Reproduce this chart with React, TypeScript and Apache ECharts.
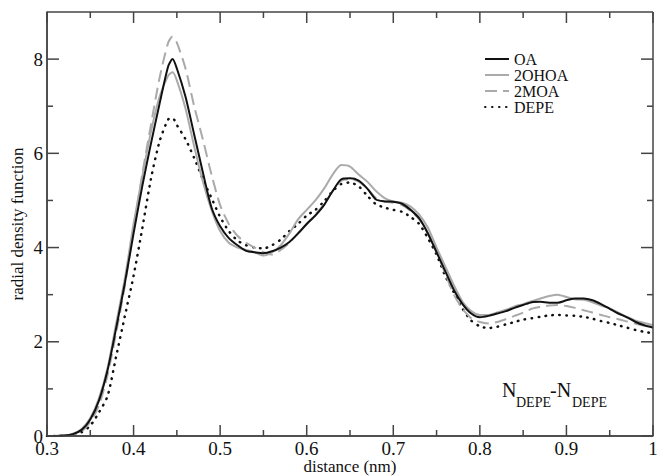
import React, { useEffect, useRef } from "react";
import * as echarts from "echarts";

const distance = [
  0.30, 0.31, 0.32, 0.33, 0.34, 0.35, 0.36, 0.37, 0.38, 0.39,
  0.40, 0.41, 0.42, 0.43, 0.44, 0.445, 0.45, 0.46, 0.47, 0.48, 0.49,
  0.50, 0.51, 0.52, 0.53, 0.54, 0.55, 0.56, 0.57, 0.58, 0.59,
  0.60, 0.61, 0.62, 0.63, 0.64, 0.65, 0.66, 0.67, 0.68, 0.69,
  0.70, 0.71, 0.72, 0.73, 0.74, 0.75, 0.76, 0.77, 0.78, 0.79,
  0.80, 0.81, 0.82, 0.83, 0.84, 0.85, 0.86, 0.87, 0.88, 0.89,
  0.90, 0.91, 0.92, 0.93, 0.94, 0.95, 0.96, 0.97, 0.98, 0.99, 1.00,
];

const oa = [
  0, 0, 0.01, 0.04, 0.13, 0.35, 0.75, 1.4, 2.3, 3.25,
  4.3, 5.3, 6.2, 7.05, 7.85, 8.0, 7.8, 7.2, 6.4, 5.6, 4.85,
  4.45, 4.2, 4.05, 3.93, 3.9, 3.88, 3.92, 4.0, 4.12, 4.3,
  4.5, 4.68, 4.9, 5.2, 5.45, 5.47, 5.42, 5.25, 5.02, 4.98,
  4.97, 4.93, 4.8, 4.62, 4.3, 3.9, 3.5, 3.1, 2.8, 2.6,
  2.52, 2.55, 2.6, 2.65, 2.72, 2.78, 2.84, 2.85, 2.83, 2.83,
  2.88, 2.92, 2.92, 2.88, 2.8, 2.7, 2.6, 2.52, 2.42, 2.35, 2.3,
];

const ohoa = [
  0, 0, 0.01, 0.05, 0.15, 0.38, 0.8, 1.45, 2.4, 3.35,
  4.5, 5.5, 6.45, 7.2, 7.65, 7.72, 7.55, 6.95, 6.15, 5.4, 4.8,
  4.35, 4.1, 4.0, 3.95, 3.9, 3.83, 3.9, 4.05, 4.3, 4.6,
  4.8, 5.0, 5.25, 5.55, 5.75, 5.72, 5.55, 5.4, 5.2, 5.05,
  4.98, 4.95, 4.87, 4.7, 4.42, 4.0, 3.6, 3.2, 2.85, 2.65,
  2.57, 2.57, 2.62, 2.68, 2.75, 2.8, 2.86, 2.92, 2.97, 3.0,
  2.95, 2.9, 2.89, 2.84, 2.77, 2.71, 2.62, 2.53, 2.45, 2.4, 2.35,
];

const moa = [
  0, 0, 0.01, 0.03, 0.1, 0.3, 0.65, 1.3, 2.2, 3.2,
  4.4, 5.55, 6.6, 7.6, 8.35, 8.48, 8.35, 7.8, 7.0, 6.3, 5.55,
  4.9, 4.5, 4.25, 4.1, 4.0, 3.9, 3.85, 3.95, 4.1, 4.3,
  4.5, 4.7, 4.92, 5.2, 5.42, 5.45, 5.4, 5.25, 5.05, 4.98,
  4.95, 4.9, 4.78, 4.6, 4.3, 3.9, 3.45, 3.0, 2.7, 2.5,
  2.42, 2.39, 2.42, 2.48, 2.55, 2.62, 2.7, 2.74, 2.77, 2.78,
  2.76, 2.72, 2.67, 2.62, 2.57, 2.52, 2.48, 2.43, 2.38, 2.34, 2.3,
];

const depe = [
  0, 0, 0.01, 0.03, 0.08, 0.22, 0.5, 0.85, 1.7, 2.55,
  3.4, 4.4, 5.45, 6.25, 6.72, 6.75, 6.6, 6.3, 5.9, 5.45, 5.05,
  4.65, 4.35, 4.15, 4.05, 4.0, 3.98, 4.05, 4.17, 4.35, 4.5,
  4.68, 4.8, 4.98, 5.2, 5.35, 5.38, 5.3, 5.1, 4.92, 4.85,
  4.8, 4.76, 4.65, 4.5, 4.2, 3.85, 3.4, 3.05, 2.7, 2.45,
  2.33, 2.29, 2.32, 2.37, 2.42, 2.47, 2.5, 2.53, 2.56, 2.57,
  2.56, 2.55, 2.53, 2.49, 2.44, 2.4, 2.35, 2.3, 2.25, 2.21, 2.18,
];

const seriesNames = ["OA", "2OHOA", "2MOA", "DEPE"];

const xMajorTicks = [0.3, 0.4, 0.5, 0.6, 0.7, 0.8, 0.9, 1.0];
const xMinorTicks = [0.35, 0.45, 0.55, 0.65, 0.75, 0.85, 0.95];
const yMajorTicks = [0, 2, 4, 6, 8];
const yMinorTicks = [1, 3, 5, 7];

const FONT = "Liberation Serif";
const AXIS_COLOR = "#444";

export default function App() {
  const ref = useRef<HTMLDivElement>(null);

  useEffect(() => {
    if (!ref.current) return;
    const chart = echarts.init(ref.current, null, { renderer: "svg" });
    const pairs = (ys: number[]) => distance.map((x, i) => [x, ys[i]]);
    const lineBase = () => ({
      type: "line",
      showSymbol: false,
      symbol: "none",
      smooth: 0.25,
    });

    const annotation = [
      { type: "text", left: 502, top: 380, style: { text: "N", font: `20px '${FONT}'`, fill: "#111" } },
      { type: "text", left: 516, top: 395, style: { text: "DEPE", font: `14px '${FONT}'`, fill: "#111" } },
      { type: "text", left: 550, top: 380, style: { text: "-N", font: `20px '${FONT}'`, fill: "#111" } },
      { type: "text", left: 572, top: 395, style: { text: "DEPE", font: `14px '${FONT}'`, fill: "#111" } },
    ];

    chart.setOption({
      animation: false,
      backgroundColor: "#fff",
      grid: { left: 47, right: 4, top: 12, bottom: 40, outerBoundsMode: "none" },
      legend: {
        orient: "vertical",
        left: 479,
        top: 46,
        itemWidth: 24,
        itemHeight: 17,
        itemGap: 0,
        data: seriesNames,
        itemStyle: { opacity: 0 },
        textStyle: { fontFamily: FONT, fontSize: 16, color: "#111" },
      },
      xAxis: {
        type: "value",
        min: 0.3,
        max: 1,
        interval: 0.1,
        splitLine: { show: false },
        axisLine: { show: true, onZero: false, lineStyle: { color: AXIS_COLOR, width: 1.5 } },
        axisTick: { show: false },
        axisLabel: {
          show: true,
          margin: 3,
          fontFamily: FONT,
          fontSize: 19,
          color: "#111",
          formatter: (v: number) => String(parseFloat(v.toFixed(2))),
        },
        name: "distance (nm)",
        nameLocation: "middle",
        nameGap: 22,
        nameMoveOverlap: false,
        nameTextStyle: { fontFamily: FONT, fontSize: 17, color: "#111" },
      },
      yAxis: {
        type: "value",
        min: 0,
        max: 9,
        interval: 2,
        splitLine: { show: false },
        axisLine: { show: true, onZero: false, lineStyle: { color: AXIS_COLOR, width: 1.5 } },
        axisTick: { show: false },
        axisLabel: {
          show: true,
          margin: 4,
          fontFamily: FONT,
          fontSize: 19,
          color: "#111",
          formatter: (v: number) => (Math.round(v) % 2 === 0 ? String(v) : ""),
        },
        name: "radial density function",
        nameLocation: "middle",
        nameGap: 21,
        nameMoveOverlap: false,
        nameTextStyle: { fontFamily: FONT, fontSize: 17, color: "#111" },
      },
      graphic: { elements: annotation },
      series: [
        {
          ...lineBase(),
          name: "DEPE",
          z: 2,
          data: pairs(depe),
          color: "#111",
          lineStyle: { color: "#111", width: 2.5, type: [0.5, 6.5], cap: "round" },
        },
        {
          ...lineBase(),
          name: "2MOA",
          z: 3,
          data: pairs(moa),
          color: "#aaa",
          lineStyle: { color: "#aaa", width: 2, type: [12, 6] },
        },
        {
          ...lineBase(),
          name: "2OHOA",
          z: 4,
          data: pairs(ohoa),
          color: "#aaa",
          lineStyle: { color: "#aaa", width: 2 },
        },
        {
          ...lineBase(),
          name: "OA",
          z: 5,
          data: pairs(oa),
          color: "#111",
          lineStyle: { color: "#111", width: 2 },
        },
      ],
    });

    // Frame and inward ticks, placed through the chart's own scales.
    const px = (x: number, y: number) =>
      chart.convertToPixel({ gridIndex: 0 }, [x, y]) as number[];
    const [x0, yb] = px(0.3, 0);
    const [x1, yt] = px(1, 9);
    const stroke = { stroke: AXIS_COLOR, lineWidth: 1.5 };
    const seg = (a: number, b: number, c: number, d: number) => ({
      type: "line",
      silent: true,
      z: 10,
      shape: { x1: a, y1: b, x2: c, y2: d },
      style: { ...stroke },
    });
    const frameEls: any[] = [
      seg(x0, yt, x1, yt),
      seg(x1, yt, x1, yb),
      seg(x0, yb, x1, yb),
      seg(x0, yt, x0, yb),
    ];
    xMajorTicks.forEach((v) => {
      const [x] = px(v, 0);
      frameEls.push(seg(x, yb, x, yb - 11), seg(x, yt, x, yt + 11));
    });
    xMinorTicks.forEach((v) => {
      const [x] = px(v, 0);
      frameEls.push(seg(x, yb, x, yb - 6), seg(x, yt, x, yt + 6));
    });
    yMajorTicks.forEach((v) => {
      const [, y] = px(0.3, v);
      frameEls.push(seg(x0, y, x0 + 12, y), seg(x1, y, x1 - 12, y));
    });
    yMinorTicks.forEach((v) => {
      const [, y] = px(0.3, v);
      frameEls.push(seg(x0, y, x0 + 6, y), seg(x1, y, x1 - 6, y));
    });

    chart.setOption({ graphic: { elements: [...annotation, ...frameEls] } });

    return () => chart.dispose();
  }, []);

  return (
    <div
      ref={ref}
      style={{ position: "absolute", left: 0, top: 0, width: 657, height: 476 }}
    />
  );
}
